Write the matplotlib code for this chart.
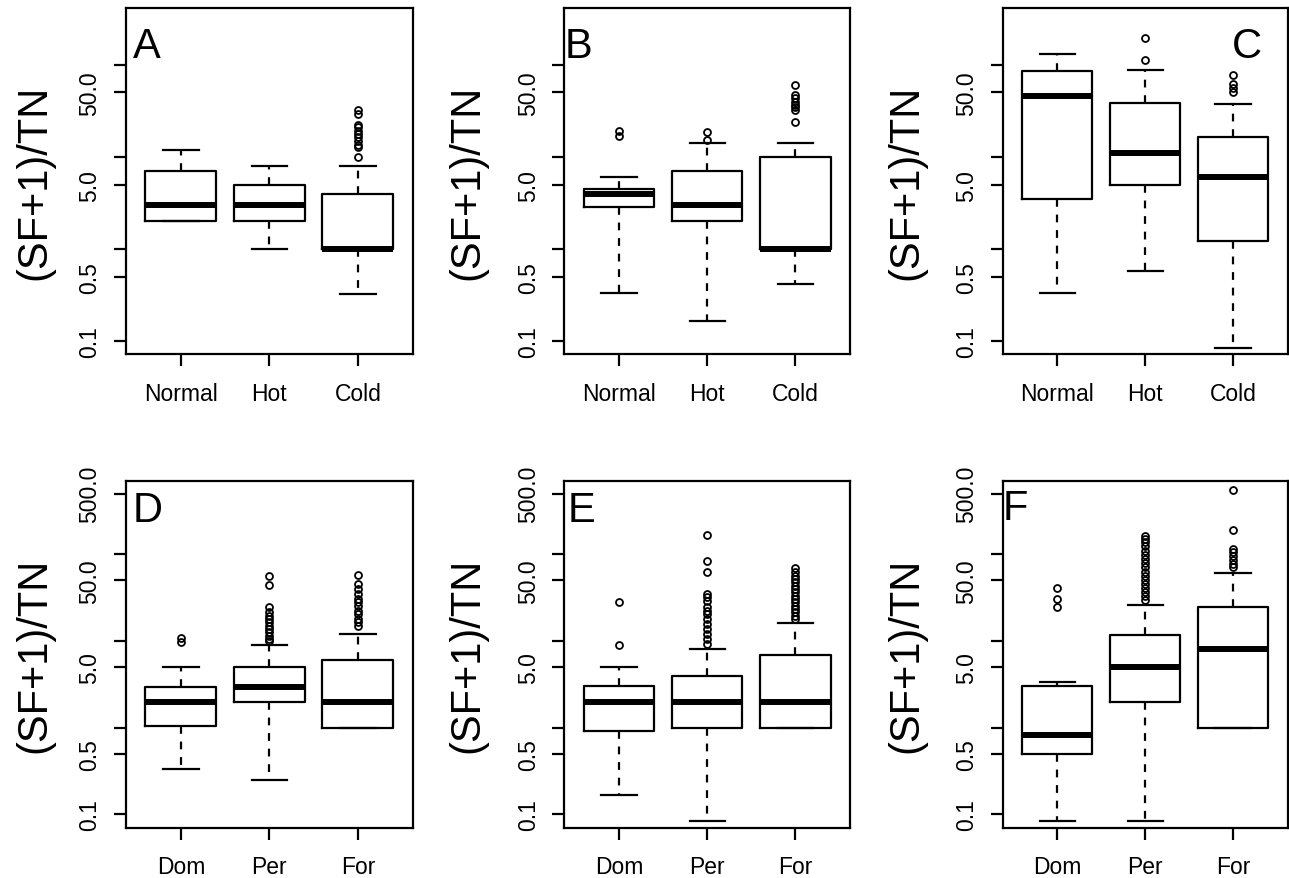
import matplotlib
matplotlib.use("Agg")
import matplotlib.pyplot as plt

plt.rcParams['font.family'] = ['Liberation Sans', 'DejaVu Sans']

# ---------------- data ----------------
groups_top = ["Normal", "Hot", "Cold"]
groups_bottom = ["Dom", "Per", "For"]

# Panel A
A_q1 = [2.0, 2.0, 1.0]
A_med = [3.0, 3.0, 1.0]
A_q3 = [7.0, 5.0, 4.0]
A_lo = [2.0, 1.0, 0.33]
A_hi = [12.0, 8.0, 8.0]
A_out = [[], [], [10.0, 12.7, 13.6, 15.0, 16.3, 17.7, 19.2, 20.9, 22.3, 29.2, 32.3]]

# Panel B
B_q1 = [2.84, 2.0, 1.0]
B_med = [4.0, 3.0, 1.0]
B_q3 = [4.5, 7.0, 10.0]
B_lo = [0.334, 0.167, 0.418]
B_hi = [6.0, 14.0, 14.0]
B_out = [[17.0, 19.2], [15.3, 18.5], [24.1, 32.5, 34.5, 36.6, 39.8, 43.2, 46.9, 60.2]]

# Panel C
C_q1 = [3.5, 5.0, 1.21]
C_med = [45.4, 10.9, 6.0]
C_q3 = [84.8, 38.1, 16.6]
C_lo = [0.334, 0.583, 0.084]
C_hi = [130.0, 88.0, 37.5]
C_out = [[], [113.0, 193.0], [50.0, 56.0, 62.0, 78.0]]

# Panel D
D_q1 = [1.04, 2.0, 1.0]
D_med = [2.0, 2.95, 2.0]
D_q3 = [2.92, 5.0, 6.04]
D_lo = [0.333, 0.25, 1.0]
D_hi = [5.0, 9.0, 12.0]
D_out = [[9.65, 10.8],
         [10.1, 10.6, 11.5, 12.6, 13.8, 15.0, 16.4, 17.9, 19.6, 21.4, 24.5, 44.3, 56.7],
         [14.8, 16.4, 17.9, 20.5, 22.4, 25.6, 27.9, 30.5, 34.9, 39.8, 45.5, 57.8]]

# Panel E
E_q1 = [0.91, 1.0, 1.0]
E_med = [2.0, 2.0, 2.0]
E_q3 = [3.05, 3.95, 6.95]
E_lo = [0.167, 0.083, 1.0]
E_hi = [5.0, 8.0, 16.1]
E_out = [[9.1, 27.9],
         [9.25, 10.6, 12.1, 13.8, 15.7, 17.9, 20.5, 22.4, 24.5, 29.3, 32.0, 34.9, 63.1, 84.5, 167.0],
         [17.9, 19.6, 21.4, 23.4, 25.6, 27.9, 30.5, 33.3, 36.5, 39.8, 43.5, 47.6, 52.0, 56.7, 62.1, 69.0]]

# Panel F
F_q1 = [0.5, 1.98, 1.0]
F_med = [0.83, 5.0, 8.0]
F_q3 = [3.0, 11.8, 24.9]
F_lo = [0.083, 0.083, 1.0]
F_hi = [3.4, 26.3, 60.4]
F_out = [[24.5, 30.5, 40.5],
         [30.0, 32.8, 36.5, 40.5, 45.5, 51.0, 56.7, 63.0, 71.0, 79.6, 88.5, 98.0, 110.0, 124.0, 138.0, 150.0, 164.0],
         [71.0, 77.4, 86.8, 96.6, 106.0, 115.0, 193.0, 557.0]]

panel_letters = ["A", "B", "C", "D", "E", "F"]
ytick_top = [0.1, 0.5, 1, 5, 10, 50, 100]
ytick_top_labels = ["0.1", "0.5", "", "5.0", "", "50.0", ""]
ytick_bottom = [0.1, 0.5, 1, 5, 10, 50, 100, 500]
ytick_bottom_labels = ["0.1", "0.5", "", "5.0", "", "50.0", "", "500.0"]
ylabel_text = "(SF+1)/TN"

# ---------------- layout (pixels) ----------------
W, H = 1289, 879
DPI = 100
fig = plt.figure(figsize=(W / DPI, H / DPI), dpi=DPI)

col_x = [(126, 412.7), (564.3, 850), (1002.7, 1287.5)]
row_y = [(9.3, 355.3), (482.3, 828.7)]
row_ylim = [(0.0723, 409.0), (0.0702, 697.0)]
ylab_cx = [34, 467.5, 906]
# letter anchors: (x px, baseline y px, ha)
letter_pos = [(133, 58.3, 'left'), (565, 58.3, 'left'), (1262, 58.3, 'right'),
              (133, 521.7, 'left'), (568, 521.7, 'left'), (1002.5, 520, 'left')]

panels = [
    (A_q1, A_med, A_q3, A_lo, A_hi, A_out),
    (B_q1, B_med, B_q3, B_lo, B_hi, B_out),
    (C_q1, C_med, C_q3, C_lo, C_hi, C_out),
    (D_q1, D_med, D_q3, D_lo, D_hi, D_out),
    (E_q1, E_med, E_q3, E_lo, E_hi, E_out),
    (F_q1, F_med, F_q3, F_lo, F_hi, F_out),
]

LW = 1.6
for i, (q1, med, q3, lo, hi, out) in enumerate(panels):
    r, c = divmod(i, 3)
    x0, x1 = col_x[c]
    yt, yb = row_y[r]
    ax = fig.add_axes([x0 / W, 1 - yb / H, (x1 - x0) / W, (yb - yt) / H])
    groups = groups_top if r == 0 else groups_bottom
    stats = []
    for g in range(3):
        stats.append(dict(label=groups[g], med=med[g], q1=q1[g], q3=q3[g],
                          whislo=lo[g], whishi=hi[g], fliers=out[g]))
    ax.bxp(stats, positions=[1, 2, 3], widths=0.8, capwidths=0.4,
           boxprops=dict(color='black', linewidth=LW),
           whiskerprops=dict(color='black', linewidth=LW, linestyle=(0, (3.5, 3.5))),
           capprops=dict(color='black', linewidth=LW),
           medianprops=dict(color='black', linewidth=4.3, solid_capstyle='butt'),
           flierprops=dict(marker='o', markerfacecolor='none', markeredgecolor='black',
                           markersize=5, markeredgewidth=1.3, linestyle='none'))
    ax.set_yscale('log')
    ax.set_ylim(*row_ylim[r])
    ax.set_xlim(0.38, 3.62)
    if r == 0:
        ax.set_yticks(ytick_top)
        ax.set_yticklabels(ytick_top_labels)
    else:
        ax.set_yticks(ytick_bottom)
        ax.set_yticklabels(ytick_bottom_labels)
    ax.yaxis.set_minor_locator(matplotlib.ticker.NullLocator())
    ax.set_xticks([1, 2, 3])
    ax.set_xticklabels(groups)
    for lab in ax.get_yticklabels():
        lab.set_rotation(90)
        lab.set_va('center')
    ax.tick_params(axis='both', direction='out', length=8.7, width=LW,
                   labelsize=16.5, color='black')
    ax.tick_params(axis='y', pad=9)
    ax.tick_params(axis='x', pad=11)
    for s in ax.spines.values():
        s.set_linewidth(LW)
    cy = (yt + yb) / 2
    fig.text(ylab_cx[c] / W, 1 - cy / H, ylabel_text, rotation=90,
             ha='center', va='center', fontsize=30)
    lx, ly, ha = letter_pos[i]
    fig.text(lx / W, 1 - ly / H, panel_letters[i], ha=ha, va='baseline', fontsize=30)

fig.savefig("out.png", dpi=DPI)
